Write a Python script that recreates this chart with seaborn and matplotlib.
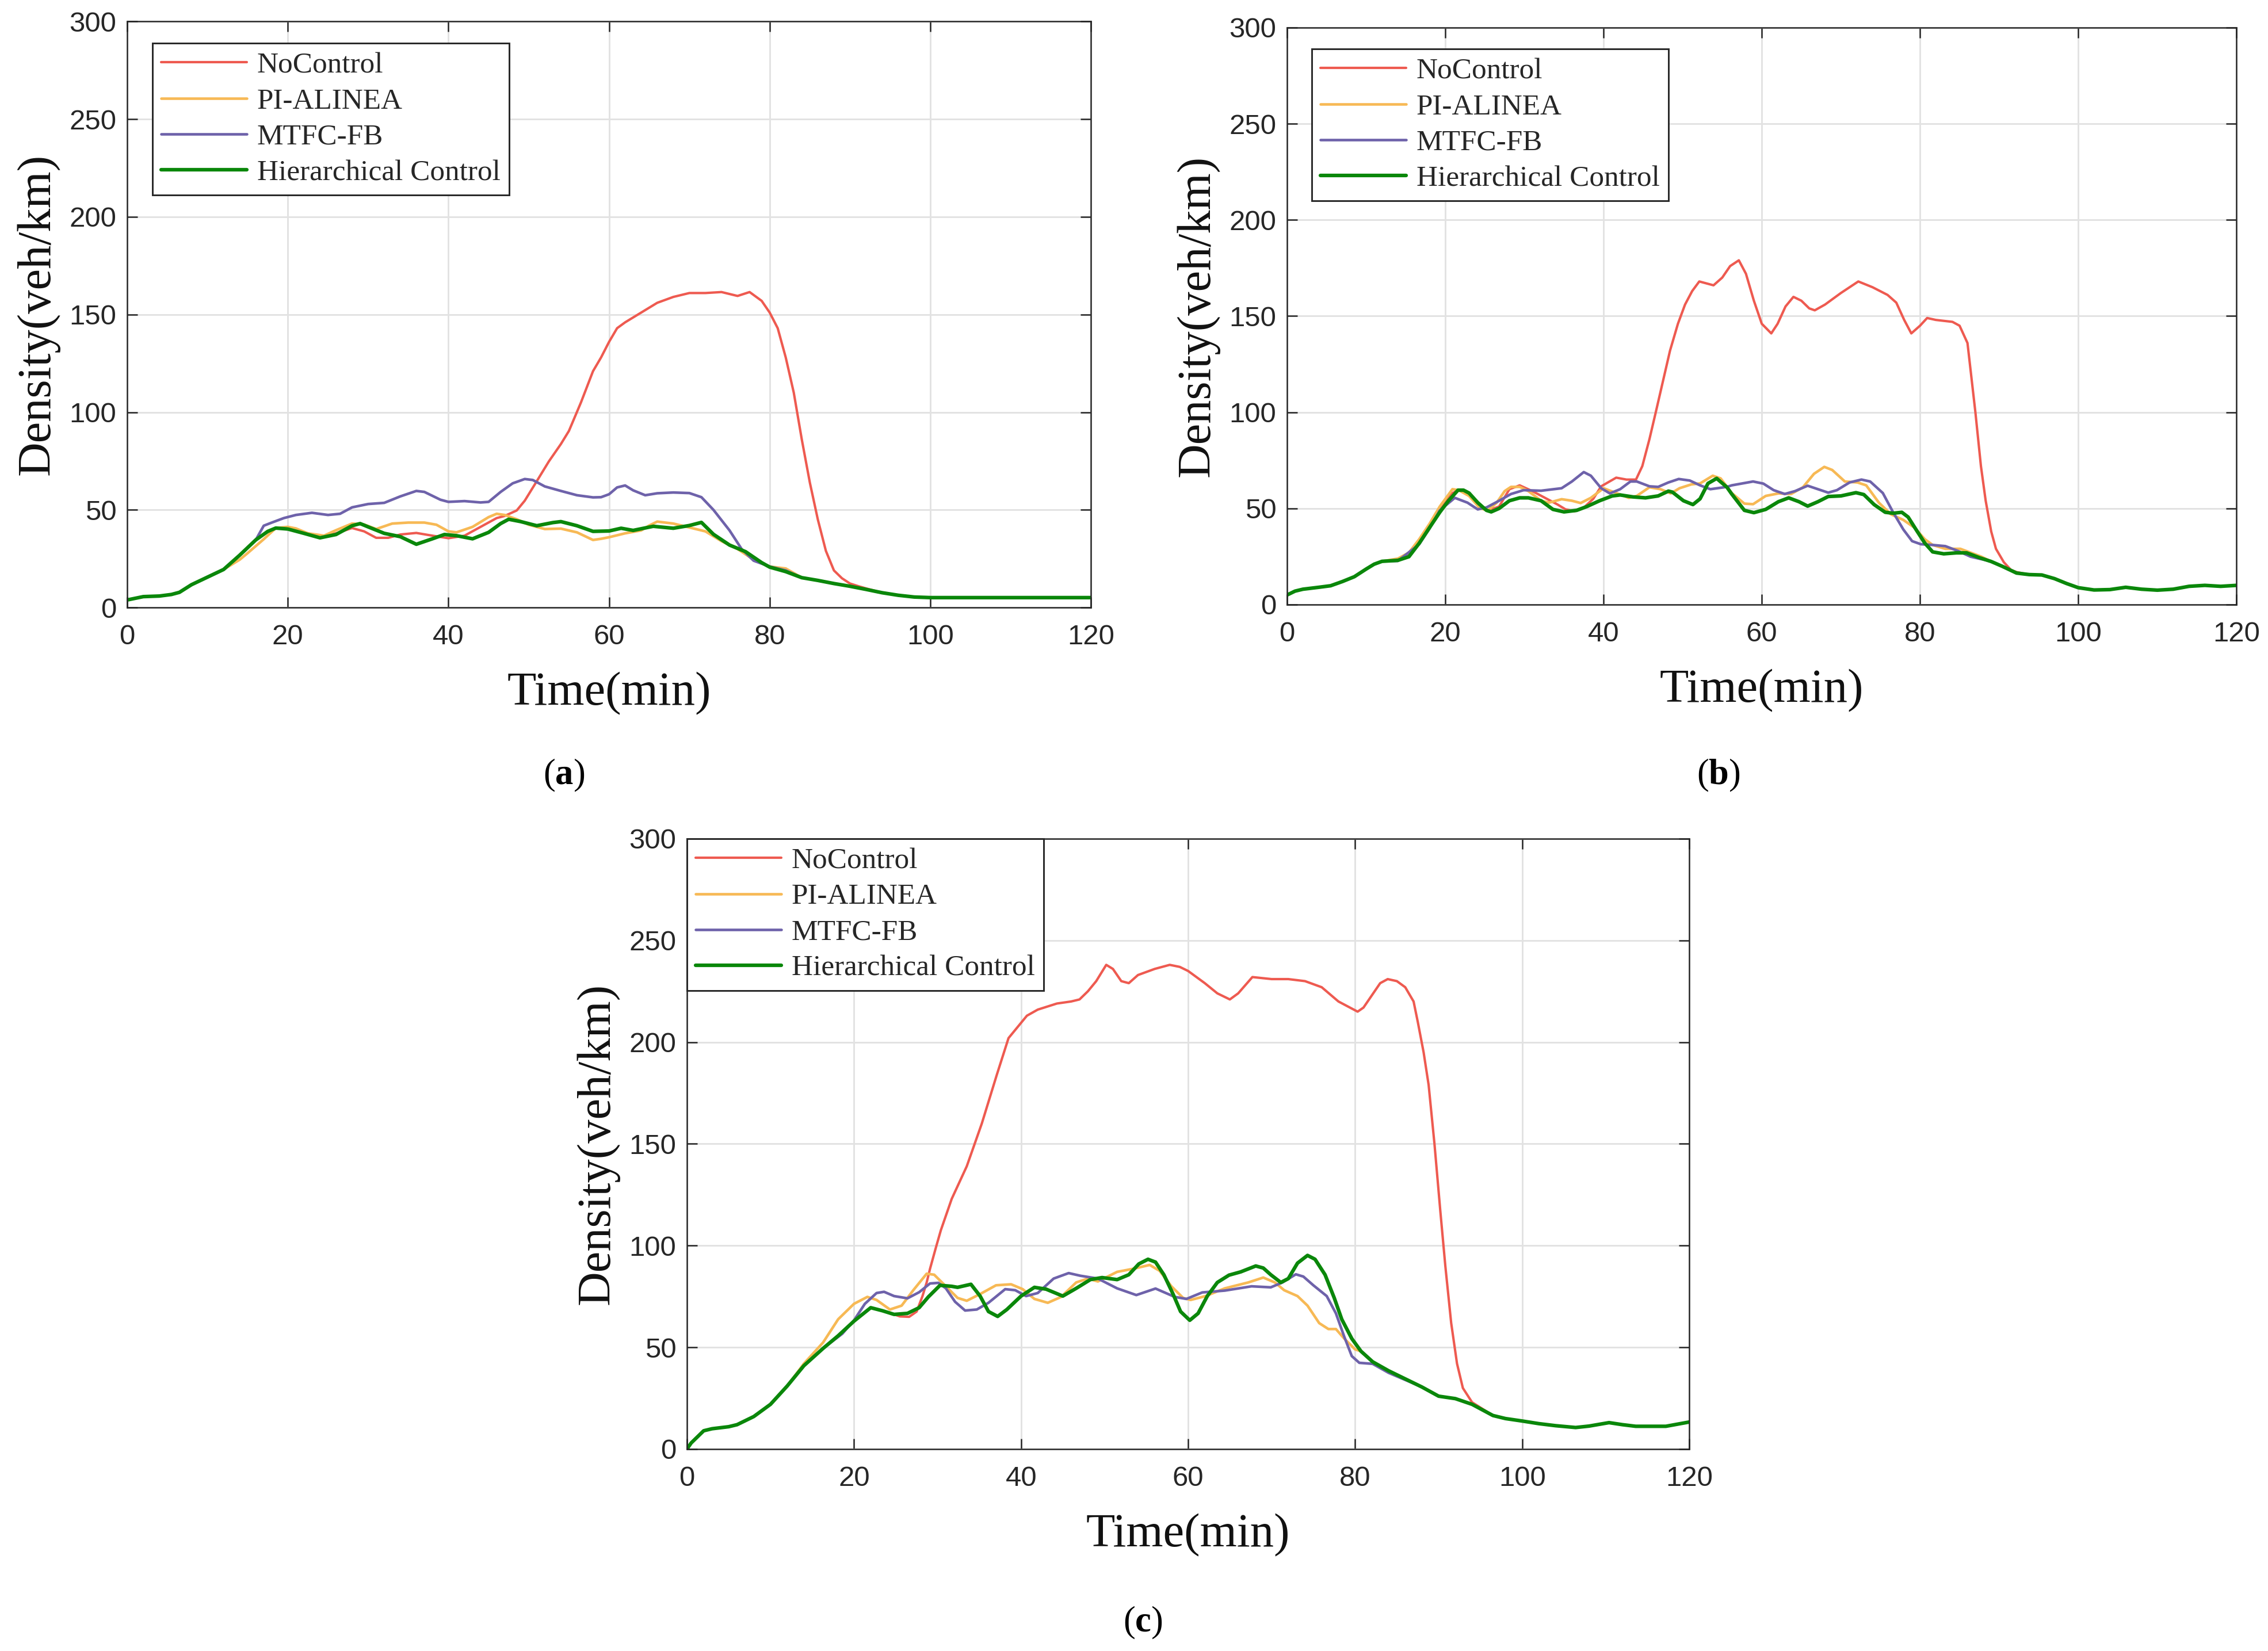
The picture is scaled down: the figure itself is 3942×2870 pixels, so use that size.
import matplotlib
matplotlib.use("Agg")
import matplotlib.pyplot as plt
import seaborn as sns

# ---- panel (a) ----
a_red_t = [0, 2, 4, 5.5, 6.5, 8, 10, 12, 14, 16, 17.5, 18.5, 20, 22, 24, 26, 28, 29.5, 31, 32.5,
           34, 36, 38, 40, 42, 44, 46, 47, 48.5, 49.5, 51, 52.5, 54, 55, 56.5, 58, 59, 60, 61, 62,
           63, 64, 66, 68, 70, 72, 74, 76, 77.5, 79, 80, 81, 82, 83, 84, 85, 86, 87, 88, 89,
           90, 91, 92, 94, 96, 98, 100, 120]
a_red_v = [3.9, 5.6, 5.9, 6.7, 7.8, 11.7, 15.6, 19.5, 26.8, 34.6, 39, 40.7, 40.2, 38, 36, 38, 40.7, 39, 35.7, 35.7,
           37.4, 38.2, 36.8, 35.5, 36.8, 41.3, 45.8, 46.9, 49.7, 54.7, 64.7, 74.8, 83.7, 90.4, 105, 121, 128, 136, 143, 146,
           148.5, 151, 156, 159, 161, 161, 161.5, 159.5, 161.5, 157, 151, 143, 128, 110, 86, 64, 45, 29, 19, 15,
           12.3, 11, 9.8, 7.6, 6.3, 5.4, 5.1, 5.1]

a_pi_t = [0, 2, 4, 5.5, 6.5, 8, 10, 12, 14, 15, 17, 18.5, 20, 21, 22.5, 24.5, 26, 28, 29.5, 31, 33,
          35, 37, 38.5, 40, 41, 43, 45, 46, 47, 48.5, 50, 52, 54, 56, 58, 59, 60, 62, 64, 65, 66,
          68, 70, 72, 74, 76, 78, 80, 82, 84, 86, 88, 90, 92, 94, 96, 98, 100, 120]
a_pi_v = [3.9, 5.6, 5.9, 6.7, 7.8, 11.7, 15.6, 19.5, 24.5, 27.9, 35, 40.7, 41.3, 40.5, 38, 36.8, 39.6, 43, 42.5, 40.2, 43,
          43.5, 43.5, 42.4, 39, 38.5, 41.3, 46.3, 48, 47.4, 45.2, 42.4, 40.2, 40.4, 38.5, 34.6, 35.2, 36, 38, 39.5, 42, 44,
          43, 41, 39, 34, 30, 24.5, 21, 20, 15.3, 13.9, 12.3, 10.9, 9.3, 7.6, 6.3, 5.4, 5.1, 5.1]

a_mtfc_t = [0, 2, 4, 5.5, 6.5, 8, 10, 12, 14, 16, 17, 18, 19.5, 21, 23, 25, 26.5, 28, 30, 32,
            34, 36, 37, 39, 40, 42, 44, 45, 46.5, 48, 49.5, 50.5, 52, 54, 56, 58, 59, 60, 61, 62,
            63, 64.5, 66, 68, 70, 71.5, 73, 75, 76.5, 78, 80, 82, 84, 86, 88, 90, 92, 94, 96, 98,
            100, 120]
a_mtfc_v = [3.9, 5.6, 5.9, 6.7, 7.8, 11.7, 15.6, 19.5, 26.8, 34.6, 41.9, 43.5, 45.8, 47.4, 48.5, 47.4, 48, 51.3, 53, 53.6,
            56.9, 59.7, 59.2, 55.2, 54.1, 54.5, 53.8, 54.1, 59.2, 63.6, 65.8, 65.3, 62, 59.7, 57.5, 56.4, 56.5, 58, 61.5, 62.5,
            60, 57.5, 58.5, 58.9, 58.6, 56.5, 50, 39.5, 30, 24, 21, 19, 15.3, 13.9, 12.3, 10.9, 9.3, 7.6, 6.3, 5.4,
            5.1, 5.1]

a_hc_t = [0, 2, 4, 5.5, 6.5, 8, 10, 12, 14, 16, 17.5, 18.5, 20, 22, 24, 26, 28, 29, 30, 32,
          34, 36, 38, 39.5, 41, 43, 45, 46.5, 47.5, 49, 51, 53, 54, 56, 58, 60, 61.5, 63, 65.5, 68,
          70, 71.5, 73, 75, 77, 79, 80, 82, 84, 86, 88, 90, 92, 94, 96, 98, 100, 120]
a_hc_v = [3.9, 5.6, 5.9, 6.7, 7.8, 11.7, 15.6, 19.5, 26.8, 34.6, 39, 40.7, 40.2, 38, 35.7, 37.4, 41.9, 43, 41.3, 38,
          36.3, 32.4, 35.2, 37.4, 36.8, 35.2, 38.5, 43, 45.2, 44, 41.9, 43.5, 44, 41.9, 39, 39.2, 40.6, 39.5, 41.6, 40.6,
          42, 43.6, 37.5, 32, 28.6, 23, 20.7, 18.4, 15.3, 13.9, 12.3, 10.9, 9.3, 7.6, 6.3, 5.4, 5.1, 5.1]

# ---- panel (b) ----
b_red_t = [0, 1, 2, 4, 5.5, 7, 8.5, 10, 11, 12, 14, 15.4, 16.7, 18, 19.3, 20.9, 21.7, 23, 24.4, 25.5,
           26.8, 28.1, 29.4, 31, 32.6, 34.2, 35.2, 36.3, 37.4, 38.7, 39.7, 41.6, 42.9, 44.1, 44.9, 45.8, 46.6, 47.5, 48.4, 49.4,
           50.3, 51.2, 52.1, 53, 53.9, 55, 56, 57.1, 58, 59, 60, 61.2, 62, 63, 64, 65, 66, 66.7, 68, 70,
           72.2, 74, 75.9, 77, 78, 78.9, 80, 80.9, 82, 84.1, 85, 86, 87, 87.7, 88.3, 89, 89.6, 90.6, 91.5, 92.2,
           93.8, 95.4, 97, 98.5, 100, 102, 104, 106, 108, 110, 112, 114, 116, 118, 120]
b_red_v = [5, 7, 8, 9, 9.8, 12, 14.5, 18.5, 21, 22.5, 23.5, 26, 33, 41, 50, 58, 59.5, 57, 51, 49,
           51, 60, 62, 59, 55.5, 52, 49.5, 48.5, 50, 55, 61.5, 66, 65, 65, 72, 86, 100, 116, 132, 146,
           156, 163, 168, 167, 166, 170, 176, 179, 172, 158, 146, 141, 146, 155, 160, 158, 154, 153, 156, 162,
           168, 165, 161, 157, 148, 141, 145, 149, 148, 147, 145, 136, 100, 72, 54, 38, 29, 22, 18, 16.9,
           15.6, 15.4, 13.5, 11, 8.8, 7.6, 7.8, 9, 8, 7.5, 8, 9.5, 10, 9.5, 10]

b_pi_t = [0, 1, 2, 4, 5.5, 7, 8.5, 10, 11, 12, 14, 15.4, 16.7, 18, 19.3, 20.9, 21.7, 23, 24.4, 25.4,
          26.5, 27.5, 28.3, 29.4, 30.5, 32.1, 33.1, 34.7, 36, 37.1, 38.4, 40, 41.6, 43.2, 44.2, 45.8, 47.2, 48.5, 49.6, 51.1,
          52.2, 53.8, 54.8, 56.2, 57.8, 58.9, 60.5, 62.1, 63.7, 65.2, 66.6, 67.9, 68.9, 70.5, 72.1, 73.2, 74.8, 76.3, 77.9, 79.3,
          80.6, 81.6, 83.2, 85.1, 86.4, 87.7, 89, 90.4, 92.2, 93.8, 95.4, 97, 98.5, 100, 102, 104, 106, 108, 110, 112,
          114, 116, 118, 120]
b_pi_v = [5, 7, 8, 9, 9.8, 12, 14.5, 18.5, 21, 22.5, 23.9, 27, 34, 42, 51, 60, 59.5, 56.5, 50, 49,
          53, 59, 61.2, 61.2, 59, 54, 53, 54.8, 54, 52.8, 55.5, 60.5, 58, 55.5, 56.5, 61, 60, 57.8, 60.5, 62.5,
          63, 67, 65.6, 58, 52.5, 52.2, 56.5, 57.8, 57.5, 61, 68, 71.6, 70, 64, 63.5, 62, 53, 47, 44, 40,
          34, 31, 29, 29, 27, 25, 22.4, 19.9, 16.4, 15.6, 15.4, 13.5, 11, 8.8, 7.6, 7.8, 9, 8, 7.5, 8,
          9.5, 10, 9.5, 10]

b_mtfc_t = [0, 1, 2, 4, 5.5, 7, 8.5, 10, 11, 12, 14, 16.7, 18, 19.3, 21.2, 22.8, 24.1, 25.2, 26.8, 28.3,
            29.9, 32.1, 34.7, 36, 37.5, 38.4, 39.7, 40.8, 42.1, 43.4, 44.2, 45.8, 46.9, 48.2, 49.5, 50.9, 52.2, 53.5, 55.6, 56.2,
            58.9, 60.2, 61.5, 62.9, 64.2, 65.8, 67.1, 68.4, 69.5, 71.1, 72.6, 73.7, 75.3, 76.6, 77.9, 79, 80.1, 81.6, 83.2, 84.8,
            86.4, 88, 89, 90.4, 92.2, 93.8, 95.4, 97, 98.5, 100, 102, 104, 106, 108, 110, 112, 114, 116, 118, 120]
b_mtfc_v = [5, 7, 8, 9, 9.8, 12, 14.5, 18.5, 21, 22.5, 22.7, 31.4, 39.5, 49, 55.5, 53, 49.5, 50.5, 54, 57.5,
            59.5, 59.2, 60.5, 64, 68.9, 67, 60.5, 57.8, 60, 64, 64, 61.5, 61.2, 63.5, 65.3, 64.5, 62, 60, 61.2, 62,
            64, 62.9, 59.5, 57.5, 59, 61.8, 60, 58.2, 59.5, 63.5, 65, 64, 58, 48, 39, 33, 31.4, 31, 30.4, 27.9,
            24.9, 23.4, 22.4, 19.9, 16.4, 15.6, 15.4, 13.5, 11, 8.8, 7.6, 7.8, 9, 8, 7.5, 8, 9.5, 10, 9.5, 10]

b_hc_t = [0, 1, 2, 4, 5.5, 7, 8.5, 10, 11, 12, 14, 15.4, 16.7, 18, 19.3, 20.4, 21.6, 22.3, 23, 24.1,
          25.2, 25.8, 26.8, 28.1, 29.4, 30.5, 32.1, 33.6, 35, 36.6, 37.9, 39.5, 41.1, 42.1, 43.7, 45.3, 46.9, 48.2, 48.7, 50.1,
          51.3, 52.2, 53.2, 54.3, 55.6, 56.2, 57.8, 59, 60.5, 62.1, 63.4, 64.7, 65.8, 67.1, 68.4, 70, 71.9, 72.9, 74.2, 75.6,
          76.6, 77.7, 78.5, 79.5, 80.6, 81.6, 83, 84.6, 85.9, 87.5, 89, 90.4, 92.2, 93.8, 95.4, 97, 98.5, 100, 102, 104,
          106, 108, 110, 112, 114, 116, 118, 120]
b_hc_v = [5, 7, 8, 9, 9.8, 12, 14.5, 18.5, 21, 22.5, 23, 24.9, 31.9, 40, 48, 54, 59.5, 59.5, 58, 53,
          49, 48.2, 50, 54, 55.5, 55.5, 54, 49.5, 48.2, 49, 51, 54, 56.5, 57, 56, 55.5, 56.5, 59, 58.5, 54,
          52, 55, 63, 65.6, 61, 57.5, 49, 47.8, 49.5, 53.5, 55.5, 53.5, 51.2, 53.5, 56.2, 56.5, 58.2, 57.2, 52, 48,
          47.5, 48, 45.5, 39, 32, 27.4, 26.4, 26.9, 26.9, 24.4, 22.4, 19.9, 16.4, 15.6, 15.4, 13.5, 11, 8.8, 7.6, 7.8,
          9, 8, 7.5, 8, 9.5, 10, 9.5, 10]

# ---- panel (c) ----
c_red_t = [0, 0.5, 1, 2, 3, 5, 6, 8, 10, 12, 14, 16.3, 18.1, 20, 22, 23.4, 24.8, 25.5, 26.6, 27.5,
           28.2, 28.7, 29.1, 29.8, 30.4, 31.7, 33.5, 35.3, 37.1, 38.5, 40.7, 42, 44.3, 46, 47, 48, 49, 50.2, 51, 52,
           52.9, 54, 56, 57.8, 59, 60, 62, 63.5, 65, 66, 67.7, 70, 72, 74, 76, 78, 80.3, 81, 82, 83,
           83.9, 85, 86, 87, 87.5, 88.2, 88.8, 89.5, 90.2, 90.8, 91.5, 92.2, 92.9, 94, 96.5, 98, 100, 102, 104, 106.4,
           108, 110.4, 112, 113.6, 116, 117.2, 120]
c_red_v = [0, 3, 5, 9, 10, 11, 12, 16, 22, 31, 41, 49.5, 55.7, 62.9, 69.5, 68, 66.2, 65.2, 65, 67.6,
           75.2, 81.9, 88.6, 99, 107.6, 123, 139, 160, 184, 202, 213, 216, 219, 220, 221, 225, 230, 238, 236, 230,
           229, 233, 236, 238, 237, 235, 229, 224, 221, 224, 232, 231, 231, 230, 227, 220, 215, 217, 223, 229,
           231, 230, 227, 220, 210, 195, 179, 150, 117, 90, 62, 42, 30, 23, 16.5, 15, 13.8, 12.5, 11.5, 10.6,
           11.3, 13, 12, 11.2, 11.2, 11.2, 13.3]

c_pi_t = [0, 0.5, 1, 2, 3, 5, 6, 8, 10, 12, 14, 16.3, 18.1, 20, 21.6, 22.7, 24.3, 25.7, 27.1, 28.7,
          29.6, 31, 32.4, 33.5, 35.1, 37, 38.8, 40.2, 41.6, 43.2, 44.8, 46.6, 48, 49.2, 51.5, 53.4, 55.4, 56.6, 58, 59.4,
          60.3, 62.1, 64.4, 67.2, 69, 70.4, 71.5, 73.1, 74.3, 75.7, 76.8, 77.7, 78.7, 80, 80.7, 82.1, 84, 86, 88, 90,
          92, 94, 96.5, 98, 100, 102, 104, 106.4, 108, 110.4, 112, 113.6, 116, 117.2, 120]
c_pi_v = [0, 3, 5, 9, 10, 11, 12, 16, 22, 31, 42, 52.4, 63.8, 71.4, 74.8, 73.3, 68.6, 70.5, 78.1, 86.2,
          85.7, 80, 74.3, 72.9, 76.2, 80.5, 81, 78.6, 73.8, 71.9, 74.8, 81.9, 83.8, 82.4, 87.1, 88.6, 90.5, 87.6, 80, 74.3,
          73.3, 75.2, 79, 81.9, 84.3, 81.9, 78.1, 75.2, 70.5, 61.9, 59, 59, 54.3, 49, 48.1, 42.9, 38.5, 34.5, 30.5, 26,
          24.8, 22, 16.5, 15, 13.8, 12.5, 11.5, 10.6, 11.3, 13, 12, 11.2, 11.2, 11.2, 13.3]

c_mtfc_t = [0, 0.5, 1, 2, 3, 5, 6, 8, 10, 12, 14, 16.3, 18.6, 20, 21.3, 22.7, 23.6, 24.8, 26.4, 27.8,
            29.1, 30.1, 31, 32.1, 33.3, 34.7, 36.1, 38.1, 39.3, 40.6, 42, 43.9, 45.7, 47.1, 49.2, 51.5, 53.8, 56.1, 58.4, 59.8,
            61.7, 64.4, 67.6, 69.9, 71.3, 72.9, 73.8, 75, 76.6, 77.7, 78.7, 79.6, 80.5, 82.1, 84, 86, 88, 90, 92, 94,
            96.5, 98, 100, 102, 104, 106.4, 108, 110.4, 112, 113.6, 116, 117.2, 120]
c_mtfc_v = [0, 3, 5, 9, 10, 11, 12, 16, 22, 31, 41, 49.5, 56.7, 63.3, 71.4, 76.7, 77.3, 75.2, 74.1, 77.1,
            81.4, 81.7, 79, 72.4, 68.1, 68.6, 71.9, 78.6, 78.1, 75.2, 76.7, 83.8, 86.5, 85.2, 83.8, 79, 75.7, 78.9, 74.8, 73.8,
            77, 77.9, 80, 79.5, 81.9, 85.9, 84.8, 80.5, 75.2, 66.7, 55.2, 45.7, 42.4, 41.9, 37.5, 34, 30.5, 26, 24.8, 22,
            16.5, 15, 13.8, 12.5, 11.5, 10.6, 11.3, 13, 12, 11.2, 11.2, 11.2, 13.3]

c_hc_t = [0, 0.5, 1, 2, 3, 5, 6, 8, 10, 12, 14, 16.3, 18.1, 20, 22, 23.4, 24.8, 26.4, 27.8, 28.9,
          30.3, 31.7, 32.4, 34, 35.1, 36.1, 37.2, 38.3, 40, 41.6, 43, 45, 46.6, 48.3, 49.7, 51.5, 52.9, 54.1, 55.2, 56.1,
          57.1, 58.2, 59.1, 60.2, 61.2, 62.3, 63.5, 64.9, 66.3, 68.1, 69, 69.9, 71.1, 72, 73.1, 74.3, 75.2, 76.4, 77.5, 78.4,
          79.6, 80.7, 82.1, 84, 86, 88, 90, 92, 94, 96.5, 98, 100, 102, 104, 106.4, 108, 110.4, 112, 113.6, 116,
          117.2, 120]
c_hc_v = [0, 3, 5, 9, 10, 11, 12, 16, 22, 31, 41, 49.5, 55.7, 62.9, 69.5, 68, 66.2, 66.7, 69.5, 74.8,
          80.5, 80, 79.5, 81, 75.2, 67.6, 65.2, 68.6, 75.2, 79.5, 78.6, 75.2, 79, 83.3, 84.3, 83.3, 85.7, 91, 93.3, 91.9,
          85.7, 76.2, 67.6, 63.3, 66.7, 75.2, 81.9, 85.5, 87.1, 90, 89, 85.7, 81.9, 83.8, 91.4, 95.2, 93.3, 85.7, 74.3, 63.8,
          54.3, 48.1, 42.9, 38.5, 34.5, 30.5, 26, 24.8, 22, 16.5, 15, 13.8, 12.5, 11.5, 10.6, 11.3, 13, 12, 11.2, 11.2,
          11.2, 13.3]

names = ["NoControl", "PI-ALINEA", "MTFC-FB", "Hierarchical Control"]
colors = ["#EE5A50", "#F7B955", "#6E62AA", "#0A870A"]
widths = [1.0, 1.1, 1.1, 1.5]

panels = [
    [(a_red_t, a_red_v), (a_pi_t, a_pi_v), (a_mtfc_t, a_mtfc_v), (a_hc_t, a_hc_v)],
    [(b_red_t, b_red_v), (b_pi_t, b_pi_v), (b_mtfc_t, b_mtfc_v), (b_hc_t, b_hc_v)],
    [(c_red_t, c_red_v), (c_pi_t, c_pi_v), (c_mtfc_t, c_mtfc_v), (c_hc_t, c_hc_v)],
]
panel_tags = ["a", "b", "c"]

sns.set_style("ticks")
plt.rcParams['font.family'] = ['Liberation Serif', 'DejaVu Serif']
plt.rcParams['mathtext.fontset'] = 'custom'
plt.rcParams['mathtext.rm'] = 'Liberation Serif'
plt.rcParams['mathtext.bf'] = 'Liberation Serif:bold'

fig = plt.figure(figsize=(3942 / 300, 2870 / 300), dpi=300)

axes_pos = [[0.0561, 0.632, 0.4249, 0.355],
            [0.5675, 0.6338, 0.4186, 0.3495],
            [0.3029, 0.1223, 0.4419, 0.3697]]
leg_anchor = [(0.026, 0.963), (0.026, 0.963), (0.0, 1.0)]
tag_pos = [(0.2487, 0.5303), (0.7577, 0.5303), (0.5038, 0.0171)]
dark = "#262626"

for i, series in enumerate(panels):
    ax = fig.add_axes(axes_pos[i])
    for (t, v), name, col, lw in zip(series, names, colors, widths):
        sns.lineplot(x=t, y=v, ax=ax, color=col, linewidth=lw, label=name,
                     sort=False, estimator=None, solid_joinstyle="round")

    ax.set_xlim(0, 120)
    ax.set_ylim(0, 300)
    ax.set_xticks(range(0, 121, 20))
    ax.set_yticks(range(0, 301, 50))
    ax.grid(True, color="#e2e2e2", linewidth=0.7)
    ax.set_axisbelow(True)
    for sp in ax.spines.values():
        sp.set_visible(True)
        sp.set_color(dark)
        sp.set_linewidth(0.6)
    ax.tick_params(direction="in", length=4.3, width=0.6, colors=dark,
                   top=True, right=True, labelsize=11.8,
                   labelfontfamily="Liberation Sans")
    ax.tick_params(axis="x", pad=7)
    ax.tick_params(axis="y", pad=4.5)

    ax.set_xlabel("Time(min)", fontsize=19.8, color="#111111", labelpad=9)
    ax.set_ylabel("Density(veh/km)", fontsize=19.8, color="#111111", labelpad=4)

    leg = ax.legend(loc="upper left", bbox_to_anchor=leg_anchor[i], borderaxespad=0,
                    fontsize=12.3, frameon=True, fancybox=False, edgecolor=dark,
                    framealpha=1, handlelength=2.9, handletextpad=0.35,
                    labelspacing=0.3, borderpad=0.3)
    leg.get_frame().set_linewidth(0.7)

    fig.text(tag_pos[i][0], tag_pos[i][1], r"($\mathbf{%s}$)" % panel_tags[i],
             ha="center", va="center", fontsize=15, color="black")

fig.savefig("out.png", dpi=300)
